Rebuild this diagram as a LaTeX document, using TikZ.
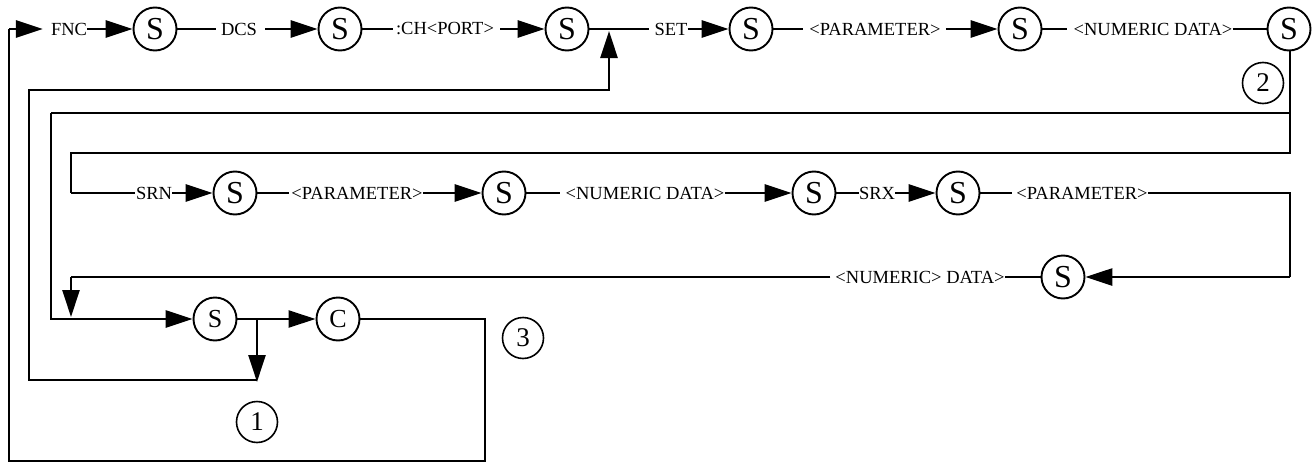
\documentclass[tikz,border=0pt]{standalone}
\usepackage{fontspec}
\setmainfont{Liberation Serif}
\usetikzlibrary{arrows.meta}
\begin{document}
\begin{tikzpicture}[x=1pt,y=-1pt,
  ln/.style={line width=2.8pt},
  loopln/.style={line width=2.8pt},
  thinln/.style={line width=2.4pt},
  arr/.style={-{Triangle[length=27pt,width=17pt]}},
  circ/.style={draw, circle, line width=1.9pt, minimum size=43pt, inner sep=0pt, font=\fontsize{32}{32}\selectfont},
  circsm/.style={circ, font=\fontsize{26}{26}\selectfont},
  numc/.style={circ, minimum size=41pt, line width=1.6pt, font=\fontsize{27}{27}\selectfont},
  lbl/.style={inner sep=0pt, font=\fontsize{18.5}{18.5}\selectfont}
]
\useasboundingbox[fill=white] (0,0) rectangle (1312,463);

% ---- row 1
\coordinate (st) at (9,29);
\node[lbl] (fnc) at (69,29) {FNC};
\node[circ] (s1) at (155,29) {S};
\node[lbl] (dcs) at (239,29) {DCS};
\node[circ] (s2) at (340,29) {S};
\node[lbl] (ch) at (445,29) {:CH<PORT>};
\node[circ] (s3) at (567,29) {S};
\coordinate (j1) at (609,31);
\node[lbl] (set) at (671,29) {SET};
\node[circ] (s4) at (751,29) {S};
\node[lbl] (par1) at (875,29) {<PARAMETER>};
\node[circ] (s5) at (1020,29) {S};
\node[lbl] (num1) at (1153,29) {<NUMERIC DATA>};
\node[circ] (s6) at (1289,29) {S};
\node[numc] (n2) at (1263,83) {2};

\draw[ln,arr] (st) -- ([xshift=-8pt]fnc.west);
\draw[ln,arr] (fnc.east) -- (s1.west);
\draw[ln] (s1.east) -- ([xshift=-5pt]dcs.west);
\draw[ln,arr] ([xshift=8pt]dcs.east) -- (s2.west);
\draw[ln] (s2.east) -- ([xshift=-3pt]ch.west);
\draw[ln,arr] ([xshift=6pt]ch.east) -- (s3.west);
\draw[ln] (s3.east) -- ([xshift=-5pt]set.west);
\draw[ln,arr] (set.east) -- (s4.west);
\draw[ln] (s4.east) -- ([xshift=-6pt]par1.west);
\draw[ln,arr] ([xshift=5pt]par1.east) -- (s5.west);
\draw[ln] (s5.east) -- ([xshift=-6pt]num1.west);
\draw[ln] (num1.east) -- (s6.west);

% ---- links down the right side
\coordinate (r1) at (1290,153);
\coordinate (b2) at (1290,113);
\coordinate (l51) at (51,113);
\coordinate (l71) at (71,153);
\coordinate (r2s) at (71,193);
\draw[loopln] (s6.south -| r1) -- (r1) -- (l71) -- (r2s);
\draw[loopln] (b2) -- (l51);

% ---- row 2
\node[lbl] (srn) at (154,193) {SRN};
\node[circ] (s7) at (235,193) {S};
\node[lbl] (par2) at (357,193) {<PARAMETER>};
\node[circ] (s8) at (504,193) {S};
\node[lbl] (num2) at (645,193) {<NUMERIC DATA>};
\node[circ] (s9) at (814,193) {S};
\node[lbl] (srx) at (877,193) {SRX};
\node[circ] (s10) at (958,193) {S};
\node[lbl] (par3) at (1082,193) {<PARAMETER>};
\coordinate (r2e) at (1290,193);
\coordinate (r3e) at (1290,277);

\draw[ln] (r2s) -- ([xshift=-1pt]srn.west);
\draw[ln,arr] (srn.east) -- (s7.west);
\draw[ln] (s7.east) -- ([xshift=-2pt]par2.west);
\draw[ln,arr] (par2.east) -- (s8.west);
\draw[ln] (s8.east) -- ([xshift=-5pt]num2.west);
\draw[ln,arr] (num2.east) -- (s9.west);
\draw[ln] (s9.east) -- (srx.west);
\draw[ln,arr] (srx.east) -- (s10.west);
\draw[ln] (s10.east) -- ([xshift=-4pt]par3.west);
\draw[ln] (par3.east) -- (r2e) -- (r3e);

% ---- row 3
\node[circ] (s11) at (1063,277) {S};
\node[lbl] (num3) at (920,277) {<NUMERIC> DATA>};
\coordinate (r3s) at (71,277);
\coordinate (r4a) at (71,317);

\draw[ln,arr] (r3e) -- (s11.east);
\draw[ln] (s11.west) -- (num3.east);
\draw[ln] ([xshift=-5pt]num3.west) -- (r3s);
\draw[ln,arr] (r3s) -- (r4a);

% ---- row 4
\coordinate (c4) at (51,319);
\node[circsm] (s12) at (215,319) {S};
\coordinate (j2) at (257,319);
\node[circsm] (cc) at (338,319) {C};
\coordinate (cr) at (485,319);
\coordinate (cb) at (485,461);
\coordinate (lb) at (9,461);
\coordinate (d1) at (257,382);
\coordinate (d1l) at (257,380);
\coordinate (l2b) at (29,380);
\coordinate (l2t) at (29,90);
\coordinate (u1) at (609,90);
\node[numc] (n1) at (257,422) {1};
\node[numc] (n3) at (523,338) {3};

\draw[loopln,arr] (l51) -- (c4) -- (s12.west);
\draw[thinln,arr] (s12.east) -- (cc.west);
\draw[thinln,arr] (j2) -- (d1);
\draw[loopln,arr] (d1l) -- (l2b) -- (l2t) -- (u1) -- (j1);
\draw[thinln] (cc.east) -- (cr) -- (cb) -- (lb) -- (st);
\end{tikzpicture}
\end{document}
